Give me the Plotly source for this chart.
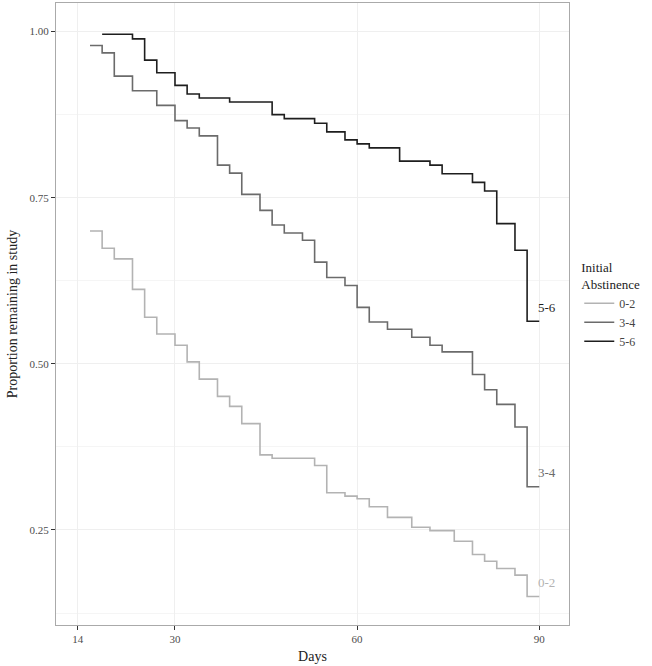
import plotly.graph_objects as go

# Step curves: days at which the step begins, and proportion remaining
days_56 = [18, 23, 25, 27, 30, 32, 34, 39, 46, 48, 53, 55, 58, 60, 62, 67, 72, 74, 79, 81, 83, 86, 88, 90]
prop_56 = [0.996, 0.989, 0.957, 0.938, 0.919, 0.906, 0.900, 0.894, 0.875, 0.869, 0.862, 0.849,
           0.837, 0.831, 0.825, 0.805, 0.799, 0.786, 0.773, 0.760, 0.711, 0.671, 0.564, 0.564]

days_34 = [16, 18, 20, 23, 27, 30, 32, 34, 37, 39, 41, 44, 46, 48, 51, 53, 55, 58, 60, 62, 65,
           69, 72, 74, 79, 81, 83, 86, 88, 90]
prop_34 = [0.979, 0.968, 0.933, 0.911, 0.889, 0.866, 0.855, 0.843, 0.799, 0.787, 0.755, 0.731,
           0.709, 0.697, 0.686, 0.653, 0.630, 0.618, 0.585, 0.563, 0.552, 0.540, 0.528, 0.518,
           0.484, 0.461, 0.439, 0.405, 0.315, 0.315]

days_02 = [16, 18, 20, 23, 25, 27, 30, 32, 34, 37, 39, 41, 44, 46, 53, 55, 58, 60, 62, 65, 69,
           72, 76, 79, 81, 83, 86, 88, 90]
prop_02 = [0.700, 0.674, 0.658, 0.612, 0.570, 0.545, 0.528, 0.503, 0.477, 0.451, 0.436, 0.410,
           0.363, 0.358, 0.347, 0.306, 0.301, 0.297, 0.285, 0.269, 0.254, 0.249, 0.233, 0.213,
           0.203, 0.192, 0.182, 0.150, 0.150]

groups = ["0-2", "3-4", "5-6"]
colors = ["#b3b3b3", "#6b6b6b", "#1e1e1e"]
x_ticks = [14, 30, 60, 90]
y_ticks = [0.25, 0.50, 0.75, 1.00]

FONT = "Liberation Serif"

series = [(days_02, prop_02), (days_34, prop_34), (days_56, prop_56)]

fig = go.Figure()
for (d, p), g, c in zip(series, groups, colors):
    fig.add_trace(go.Scatter(x=d, y=p, mode="lines", line=dict(shape="hv", color=c, width=1.6),
                             name=g))
    fig.add_annotation(x=d[-1], y=p[-1], text=g, showarrow=False, xanchor="left", yanchor="middle",
                       xshift=-3, yshift=14, font=dict(family=FONT, size=13, color=c))

fig.update_layout(
    width=652, height=666,
    margin=dict(l=56, r=83, t=3, b=41, autoexpand=False),
    paper_bgcolor="white", plot_bgcolor="white",
    font=dict(family=FONT, color="#333333"),
    showlegend=True,
    legend=dict(
        title=dict(text="Initial<br>Abstinence", font=dict(family=FONT, size=13, color="#222")),
        font=dict(family=FONT, size=12, color="#444"),
        x=1.02, xanchor="left", y=0.595, yanchor="top",
        bgcolor="rgba(0,0,0,0)", itemwidth=30, tracegroupgap=0,
        bordercolor="#cccccc", borderwidth=0,
    ),
    xaxis=dict(
        range=[10.4, 94.9], tickvals=x_ticks, ticktext=[str(v) for v in x_ticks],
        showgrid=True, gridcolor="#efefef", gridwidth=1, zeroline=False,
        showline=True, linecolor="#aaaaaa", linewidth=1.2, mirror=True,
        ticks="outside", ticklen=4, tickcolor="#333333", tickwidth=1,
        tickfont=dict(family=FONT, size=11, color="#4d4d4d"),
        title=dict(text="Days", font=dict(family=FONT, size=14, color="#222"), standoff=6),
    ),
    yaxis=dict(
        range=[0.107, 1.043], tickvals=y_ticks, ticktext=["0.25", "0.50", "0.75", "1.00"],
        showgrid=True, gridcolor="#efefef", gridwidth=1, zeroline=False,
        showline=True, linecolor="#aaaaaa", linewidth=1.2, mirror=True,
        ticks="outside", ticklen=4, tickcolor="#333333", tickwidth=1,
        tickfont=dict(family=FONT, size=11, color="#4d4d4d"),
        minor=dict(tickvals=[0.125, 0.375, 0.625, 0.875], showgrid=True, gridcolor="#f5f5f5",
                   gridwidth=0.6, ticks=""),
        title=dict(text="Proportion remaining in study", font=dict(family=FONT, size=14, color="#222"),
                   standoff=8),
    ),
)

fig.write_html("out.html", config={"displayModeBar": False},
               post_script="document.body.style.margin='0';")
